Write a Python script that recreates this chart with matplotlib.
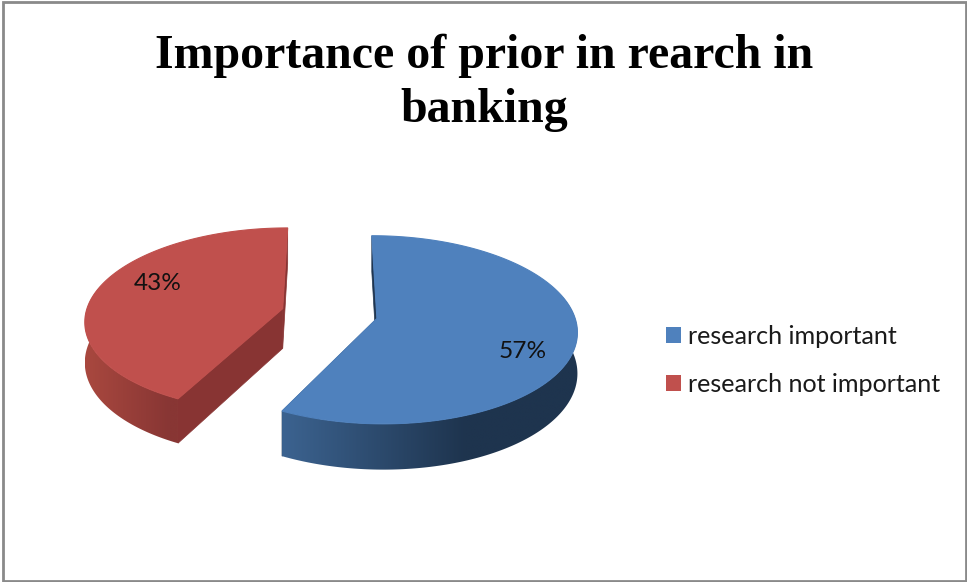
import numpy as np
import matplotlib
matplotlib.use("Agg")
import matplotlib.pyplot as plt
from matplotlib.patches import Patch, Rectangle, Polygon
from matplotlib.colors import to_rgb, LinearSegmentedColormap

# Survey shares
categories = ["research important", "research not important"]
shares = [57, 43]
chart_title = "Importance of prior in rearch in\nbanking"

TOP = ["#4F81BD", "#C0504D"]
CUT_WALL = ["#1F3550", "#883433"]
# Rim shading stops, left to right across the visible rim of each slice
RIM_STOPS = [["#3C6390", "#1E344E", "#1E344E"], ["#A9483F", "#883634", "#883634"]]
RIM_POS = [[0.0, 0.62, 1.0], [0.0, 0.9, 1.0]]

# Perspective pie parameters, in figure pixels
GX, GY = 329.5, 313.5
AX_X, AX_Y = 197.0, 91.5
PERSP = 0.12
EXPLODE = 0.245
DEPTH = 40.0
WARP = np.radians(1.8)


def project(theta, radius, offset, drop=0.0):
    """Map a pie-plane point (clockwise angle from the back) onto the canvas."""
    th = theta + WARP * (1 - np.cos(theta)) / 2
    x = radius * np.sin(th) + offset[0]
    y = -radius * np.cos(th) + offset[1]
    s = 1.0 / (1.0 - PERSP * y)
    return GX + AX_X * x * s, GY + AX_Y * y * s + drop * s


fig = plt.figure(figsize=(9.67, 5.82), dpi=100, facecolor="white")
ax = fig.add_axes([0, 0, 1, 1])

ax.add_patch(Rectangle((3, 2), 962.5, 578.5, fill=False, ec="#8A8A8A", lw=2.0))

fractions = np.array(shares) / sum(shares)
edges = np.concatenate([[0.0], np.cumsum(fractions)]) * 2 * np.pi

for i in range(len(shares)):
    start, end = edges[i], edges[i + 1]
    mid = (start + end) / 2
    offset = (EXPLODE * np.sin(mid), -EXPLODE * np.cos(mid))

    # Straight cut walls
    for a in (start, end):
        x0, y0 = project(0, 0, offset)
        x1, y1 = project(a, 1, offset)
        x2, y2 = project(a, 1, offset, DEPTH)
        x3, y3 = project(0, 0, offset, DEPTH)
        ax.fill([x0, x1, x2, x3], [y0, y1, y2, y3], color=CUT_WALL[i], lw=0.5, zorder=2)

    # Curved rim with a horizontal gradient clipped to its outline
    rim = np.linspace(max(start, np.pi * 0.42), min(end, np.pi * 1.58), 160)
    xt, yt = project(rim, 1, offset)
    xb, yb = project(rim, 1, offset, DEPTH)
    outline = np.column_stack([np.r_[xt, xb[::-1]], np.r_[yt, yb[::-1]]])
    cmap = LinearSegmentedColormap.from_list(
        f"rim{i}", list(zip(RIM_POS[i], [to_rgb(c) for c in RIM_STOPS[i]])))
    x_lo, x_hi = outline[:, 0].min(), outline[:, 0].max()
    y_lo, y_hi = outline[:, 1].min(), outline[:, 1].max()
    img = ax.imshow(np.linspace(0, 1, 256)[None, :], cmap=cmap, aspect="auto",
                    extent=(x_lo, x_hi, y_hi, y_lo), zorder=3, interpolation="bilinear")
    img.set_clip_path(Polygon(outline, closed=True, transform=ax.transData))

    # Upper face
    arc = np.linspace(start, end, 200)
    xa, ya = project(arc, 1, offset)
    xc, yc = project(0, 0, offset)
    ax.fill(np.r_[xc, xa], np.r_[yc, ya], color=TOP[i], lw=0.8, zorder=4)

ax.set_xlim(0, 967)
ax.set_ylim(582, 0)
ax.axis("off")

# Percentage labels
label_pos = [(522.5, 351.5), (157.5, 283.5)]
for share, (lx, ly) in zip(shares, label_pos):
    ax.text(lx, ly, f"{share}%", ha="center", va="center", fontsize=17.6,
            family="Lato", color="#111111", zorder=5)

ax.text(484.5, 82.5, chart_title, ha="center", va="center", fontsize=34.5,
        family="Liberation Serif", weight="bold", color="black", linespacing=1.3)

handles = [Patch(facecolor=c, edgecolor="none") for c in TOP]
leg = ax.legend(handles, categories, loc="upper left",
                bbox_to_anchor=(658 / 967, 1 - 317 / 582), bbox_transform=fig.transFigure,
                frameon=False, prop={"family": "Lato", "size": 18.1},
                handlelength=0.6, handleheight=0.6, handletextpad=0.28,
                labelspacing=1.02, borderpad=0.3, borderaxespad=0)
for t in leg.get_texts():
    t.set_color("#1A1A1A")

fig.savefig("out.png", dpi=100)
